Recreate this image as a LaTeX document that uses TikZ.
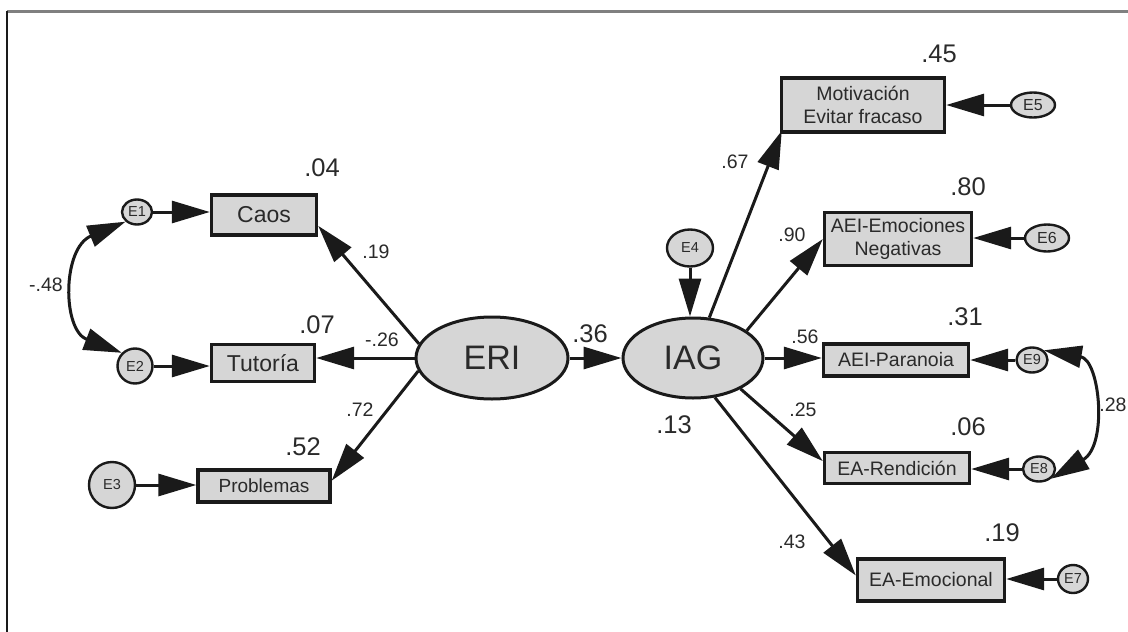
\documentclass[tikz,border=0pt]{standalone}
\usepackage{fontspec}
\setmainfont{Liberation Sans}
\usetikzlibrary{shapes.geometric,arrows.meta,calc}
\definecolor{boxgray}{HTML}{D6D6D6}
\definecolor{ink}{HTML}{1A1A1A}
\definecolor{txt}{HTML}{2A2A2A}
\begin{document}
\begin{tikzpicture}[x=1pt,y=-1pt,
  box/.style={rectangle,draw=ink,line width=3.4pt,fill=boxgray,inner sep=0pt,align=center,text=txt,font=\fontsize{19.5}{23}\selectfont},
  lat/.style={ellipse,draw=ink,line width=3pt,fill=boxgray,inner sep=0pt,text=txt,font=\fontsize{34}{34}\selectfont},
  err/.style={ellipse,draw=ink,line width=2.4pt,fill=boxgray,inner sep=0pt,text=txt,font=\fontsize{14.5}{14.5}\selectfont},
  big/.style={text=txt,inner sep=0pt,font=\fontsize{25.5}{25.5}\selectfont},
  small/.style={text=txt,inner sep=0pt,font=\fontsize{19.5}{19.5}\selectfont},
  arr/.style={draw=ink,line width=3pt,-{Triangle[length=38pt,width=22pt]}},
  biarr/.style={draw=ink,line width=3pt,{Triangle[length=38pt,width=22pt]}-{Triangle[length=38pt,width=22pt]}}
]
\useasboundingbox (0,0) rectangle (1128,632);
\fill[white] (0,0) rectangle (1128,632);
% frame
\coordinate (ftl) at (7,11);
\coordinate (ftr) at (1128,11);
\coordinate (fbl) at (7,632);
\draw[gray,line width=3pt] (ftl) -- (ftr);
\draw[ink,line width=2pt] (ftl) -- (fbl);

% latent variables
\node[lat,minimum width=152pt,minimum height=82pt] (ERI) at (492,358) {ERI};
\node[lat,minimum width=140pt,minimum height=80pt] (IAG) at (693,358) {IAG};

% observed left
\node[box,minimum width=105pt,minimum height=40pt,font=\fontsize{23}{23}\selectfont] (Caos) at (264,215) {Caos};
\node[box,minimum width=103pt,minimum height=37pt,font=\fontsize{23}{23}\selectfont] (Tut) at (263,363) {Tutoría};
\node[box,minimum width=132pt,minimum height=32pt,font=\fontsize{19}{19}\selectfont] (Prob) at (264,486) {Problemas};

% observed right
\node[box,minimum width=163pt,minimum height=54pt] (Mot) at (863,105) {Motivación\\Evitar fracaso};
\node[box,minimum width=147pt,minimum height=53pt] (Emo) at (898,239) {AEI-Emociones\\Negativas};
\node[box,minimum width=145pt,minimum height=32pt] (Par) at (896,360) {AEI-Paranoia};
\node[box,minimum width=145pt,minimum height=31pt] (Ren) at (897,468) {EA-Rendición};
\node[box,minimum width=147pt,minimum height=42pt] (Emc) at (931,580) {EA-Emocional};

% error terms
\node[err,minimum width=30pt,minimum height=25pt] (E1) at (137,212) {E1};
\node[err,minimum width=35pt,minimum height=35pt] (E2) at (135,366) {E2};
\node[err,minimum width=46pt,minimum height=46pt] (E3) at (112,485) {E3};
\node[err,minimum width=46pt,minimum height=37pt] (E4) at (690,248) {E4};
\node[err,minimum width=44pt,minimum height=25pt,font=\fontsize{16}{16}\selectfont] (E5) at (1033,105) {E5};
\node[err,minimum width=44pt,minimum height=27pt,font=\fontsize{16}{16}\selectfont] (E6) at (1047,238) {E6};
\node[err,minimum width=31pt,minimum height=25pt] (E9) at (1032,360) {E9};
\node[err,minimum width=32pt,minimum height=25pt] (E8) at (1039,469) {E8};
\node[err,minimum width=30pt,minimum height=28pt] (E7) at (1073,579) {E7};

% error arrows
\draw[arr] (E1.east) -- (E1.east -| Caos.west);
\draw[arr] (E2.east) -- (E2.east -| Tut.west);
\draw[arr] (E3.east) -- (E3.east -| Prob.west);
\draw[arr] (E4.south) -- (E4.south |- IAG.north);
\draw[arr] (E5.west) -- (E5.west -| Mot.east);
\draw[arr] (E6.west) -- (E6.west -| Emo.east);
\draw[arr] (E9.west) -- (E9.west -| Par.east);
\draw[arr] (E8.west) -- (E8.west -| Ren.east);
\draw[arr] (E7.west) -- (E7.west -| Emc.east);

% covariances
\draw[biarr] (E2.north west) .. controls (62,330) and (62,248) .. (E1.south west);
\draw[biarr] (E9.north east) .. controls (1100,360) and (1108,445) .. (E8.south east);

% structural paths
\draw[arr] (ERI.169) -- ($(Caos.north east)!0.75!(Caos.south east)$);
\draw[arr] (ERI.west) -- (ERI.west -| Tut.east);
\draw[arr] (ERI.190) -- ($(Prob.north east)!0.35!(Prob.south east)$);
\draw[arr] (ERI.east) -- (IAG.west);
\draw[arr] (IAG.68) -- ($(Mot.south west)+(2,-3)$);
\draw[arr] (IAG.27) -- (Emo.west);
\draw[arr] (IAG.east) -- (IAG.east -| Par.west);
\draw[arr] (IAG.-33) -- ($(Ren.north west)!0.3!(Ren.south west)$);
\draw[arr] (IAG.-61) -- ($(Emc.north west)!0.4!(Emc.south west)$);

% R-squared labels
\node[big] (r04) at (322,168) {.04};
\node[big] (r07) at (317,325) {.07};
\node[big] (r52) at (303,447) {.52};
\node[big] (r36) at (590,334) {.36};
\node[big] (r13) at (674,425) {.13};
\node[big] (r45) at (939,54) {.45};
\node[big] (r80) at (968,187) {.80};
\node[big] (r31) at (965,317) {.31};
\node[big] (r06) at (968,427) {.06};
\node[big] (r19) at (1002,533) {.19};

% path coefficients
\node[small] (c48) at (46,285) {-.48};
\node[small] (c19) at (376,252) {.19};
\node[small] (c26) at (382,340) {-.26};
\node[small] (c72) at (360,410) {.72};
\node[small] (c67) at (735,162) {.67};
\node[small] (c90) at (792,235) {.90};
\node[small] (c56) at (805,337) {.56};
\node[small] (c25) at (803,410) {.25};
\node[small] (c43) at (792,542) {.43};
\node[small] (c28) at (1113,405) {.28};
\end{tikzpicture}
\end{document}
